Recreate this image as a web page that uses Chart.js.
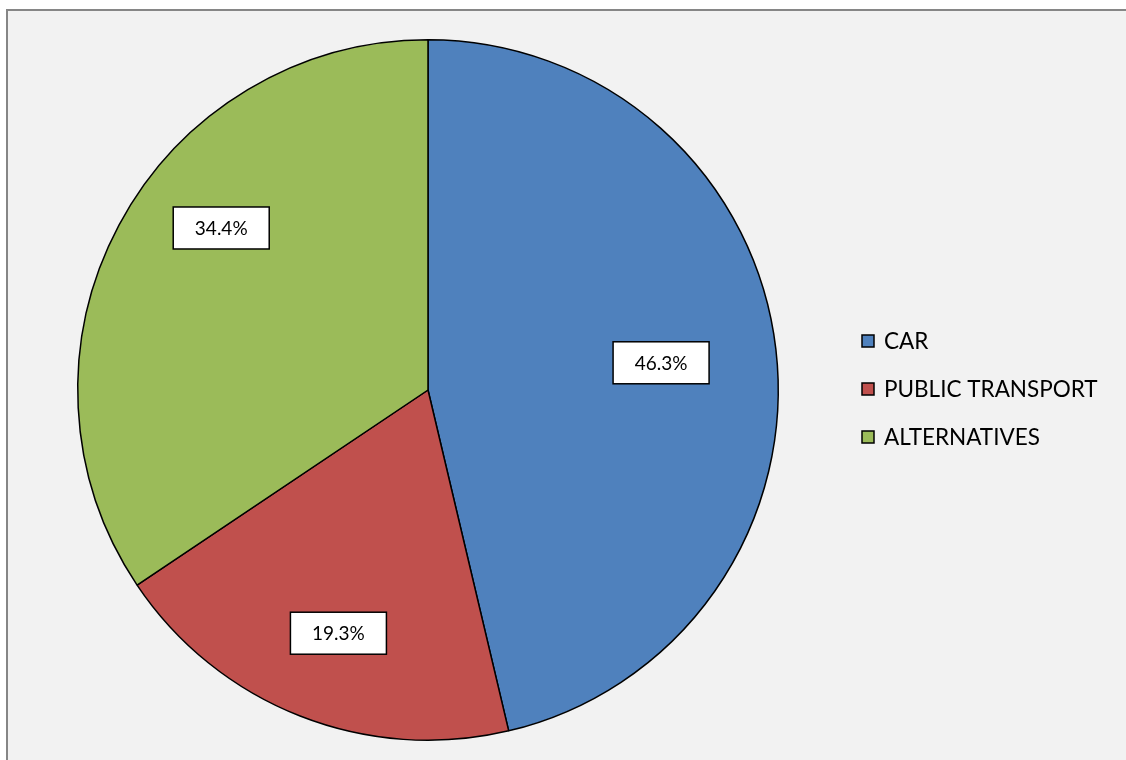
<!DOCTYPE html>
<html>
<head>
<meta charset="utf-8">
<script src="https://cdn.jsdelivr.net/npm/chart.js@4"></script>
<style>
  html, body { margin: 0; padding: 0; background: #ffffff; overflow: hidden; }
  #frame {
    position: absolute; left: 6px; top: 9px;
    width: 1130px; height: 760px;
    background: #f2f2f2;
    border-left: 2px solid #868686;
    border-top: 2px solid #868686;
  }
  #wrap { position: absolute; left: 0; top: 0; width: 1126px; height: 760px; }
</style>
</head>
<body>
<div id="frame"></div>
<div id="wrap"><canvas id="pie"></canvas></div>
<script>
// 데이터
const categories = ['CAR', 'PUBLIC TRANSPORT', 'ALTERNATIVES'];
const shares = [46.3, 19.3, 34.4];
const colors = ['#4f81bd', '#c0504d', '#9bbb59'];

// 조각 안의 흰색 값 라벨 (상자)
const boxLabels = {
  id: 'boxLabels',
  afterDatasetsDraw(chart, args, opts) {
    const ctx = chart.ctx;
    const meta = chart.getDatasetMeta(0);
    ctx.save();
    ctx.font = opts.font;
    ctx.textAlign = 'center';
    ctx.textBaseline = 'middle';
    meta.data.forEach((arc, i) => {
      const p = arc.getProps(['x', 'y', 'startAngle', 'endAngle', 'outerRadius'], true);
      const mid = (p.startAngle + p.endAngle) / 2 + (opts.nudge[i] || 0) * Math.PI / 180;
      const r = p.outerRadius * opts.dist[i];
      const cx = p.x + Math.cos(mid) * r;
      const cy = p.y + Math.sin(mid) * r;
      const text = shares[i].toFixed(1) + '%';
      const w = opts.boxW, h = opts.boxH;
      ctx.fillStyle = '#ffffff';
      ctx.fillRect(cx - w / 2, cy - h / 2, w, h);
      ctx.lineWidth = 1.5;
      ctx.strokeStyle = '#000000';
      ctx.strokeRect(cx - w / 2, cy - h / 2, w, h);
      ctx.fillStyle = '#000000';
      ctx.fillText(text, cx, cy + 1);
    });
    ctx.restore();
  }
};

// 오른쪽 범례
const sideLegend = {
  id: 'sideLegend',
  afterDraw(chart, args, opts) {
    const ctx = chart.ctx;
    ctx.save();
    ctx.font = opts.font;
    ctx.textBaseline = 'middle';
    categories.forEach((name, i) => {
      const y = opts.y + i * opts.gap;
      ctx.fillStyle = colors[i];
      ctx.fillRect(opts.x, y - 6, 12, 12);
      ctx.lineWidth = 1.5;
      ctx.strokeStyle = '#000000';
      ctx.strokeRect(opts.x, y - 6, 12, 12);
      ctx.fillStyle = '#000000';
      ctx.fillText(name, opts.x + 22, y + 1);
    });
    ctx.restore();
  }
};

const config = {
  type: 'pie',
  data: {
    labels: categories,
    datasets: [{
      data: shares,
      backgroundColor: colors,
      borderColor: '#000000',
      borderWidth: 1.5,
      borderAlign: 'center'
    }]
  },
  options: {
    responsive: false,
    animation: false,
    rotation: 0,
    layout: { padding: { left: 77, top: 39, right: 347, bottom: 19 } },
    plugins: {
      legend: { display: false },
      tooltip: { enabled: false },
      boxLabels: {
        font: '19px Lato',
        boxW: 96, boxH: 42,
        dist: [0.67, 0.74, 0.75],
        nudge: [0, -1.2, 10]
      },
      sideLegend: { font: '22.5px Lato', x: 862, y: 341, gap: 48 }
    }
  },
  plugins: [boxLabels, sideLegend]
};

const canvas = document.getElementById('pie');
canvas.width = 1126;
canvas.height = 760;
let myChart = new Chart(canvas, config);
</script>
</body>
</html>
